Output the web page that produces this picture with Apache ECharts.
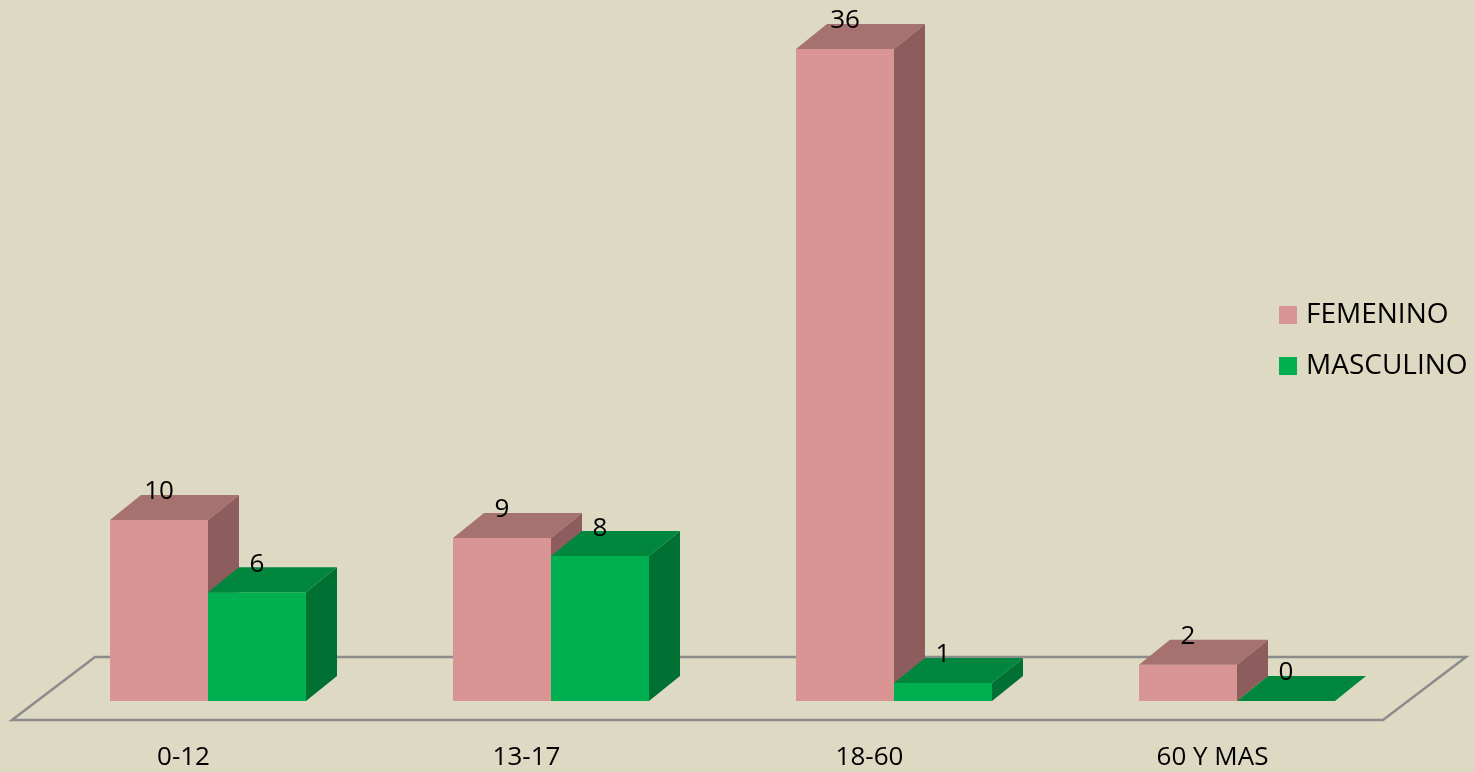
<!DOCTYPE html>
<html>
<head>
<meta charset="utf-8">
<style>
  html, body { margin: 0; padding: 0; background: #DDD9C3; }
  #main { width: 1474px; height: 772px; }
</style>
<script src="https://cdn.jsdelivr.net/npm/echarts@6/dist/echarts.min.js"></script>
</head>
<body>
<div id="main"></div>
<script>
var categories = ['0-12', '13-17', '18-60', '60 Y MAS'];
var femenino = [10, 9, 36, 2];
var masculino = [6, 8, 1, 0];

var FONT = '"Open Sans", "Noto Sans", sans-serif';
var chart = echarts.init(document.getElementById('main'));

// fake 3d bar: front face + top face + right side face
function barRender(slot, front, topColor, sideColor) {
  return function (params, api) {
    var cat = api.value(0);
    var val = api.value(1);
    var top = api.coord([cat, val]);
    var base = api.coord([cat, 0]);
    var band = api.size([1, 0])[0];
    var w = band * 0.2857;
    var x = top[0] - w + slot * w;
    var dx = 31, dy = 25;
    var y1 = top[1], y0 = base[1];
    var kids = [];
    if (y0 - y1 > 0.5) {
      kids.push({
        type: 'polygon',
        shape: { points: [[x + w, y1], [x + w + dx, y1 - dy], [x + w + dx, y0 - dy], [x + w, y0]] },
        style: { fill: sideColor }
      });
      kids.push({
        type: 'rect',
        shape: { x: x, y: y1, width: w, height: y0 - y1 },
        style: { fill: front }
      });
    }
    kids.push({
      type: 'polygon',
      shape: { points: [[x, y1], [x + dx, y1 - dy], [x + w + dx, y1 - dy], [x + w, y1]] },
      style: { fill: topColor }
    });
    kids.push({
      type: 'text',
      style: {
        text: String(val), x: x + w / 2, y: y1 - dy - 3,
        align: 'center', verticalAlign: 'middle',
        fontSize: 26, fontFamily: FONT, fill: '#000'
      }
    });
    return { type: 'group', children: kids };
  };
}

function floorRender(params, api) {
  var cs = params.coordSys;
  var y0 = cs.y + cs.height;
  return {
    type: 'polygon',
    shape: { points: [
      [cs.x - 24.5, y0 + 19],
      [cs.x + cs.width - 25.5, y0 + 19],
      [cs.x + cs.width + 57.5, y0 - 44],
      [cs.x + 58.5, y0 - 44]
    ] },
    style: { fill: 'none', stroke: '#8C8C8C', lineWidth: 2.5 }
  };
}

var option = {
  backgroundColor: '#DDD9C3',
  animation: false,
  grid: { left: 36.5, right: 65.5, top: 49, bottom: 71 },
  legend: {
    data: ['FEMENINO', 'MASCULINO'],
    orient: 'vertical',
    left: 1279, top: 301,
    padding: 0,
    icon: 'rect',
    itemWidth: 18, itemHeight: 18, itemGap: 23,
    textStyle: { fontSize: 28, fontFamily: FONT, color: '#000', padding: [0, 0, 0, 4] }
  },
  xAxis: {
    type: 'category',
    data: categories,
    axisLine: { show: false },
    axisTick: { show: false },
    splitLine: { show: false },
    axisLabel: {
      fontSize: 26, fontFamily: FONT, color: '#000',
      margin: 44, padding: [0, 49, 0, 0]
    }
  },
  yAxis: { type: 'value', min: 0, max: 36, show: false },
  series: [
    {
      type: 'custom', name: 'floor', z: 1,
      renderItem: floorRender,
      data: [[0, 0]],
      silent: true
    },
    {
      type: 'custom', name: 'FEMENINO', z: 2,
      itemStyle: { color: '#D99594' },
      renderItem: barRender(0, '#D99594', '#A6726F', '#8C5D5C'),
      encode: { x: 0, y: 1 },
      data: femenino.map(function (v, i) { return [i, v]; })
    },
    {
      type: 'custom', name: 'MASCULINO', z: 3,
      itemStyle: { color: '#00B050' },
      renderItem: barRender(1, '#00B050', '#00873D', '#007132'),
      encode: { x: 0, y: 1 },
      data: masculino.map(function (v, i) { return [i, v]; })
    }
  ]
};

chart.setOption(option);
</script>
</body>
</html>
